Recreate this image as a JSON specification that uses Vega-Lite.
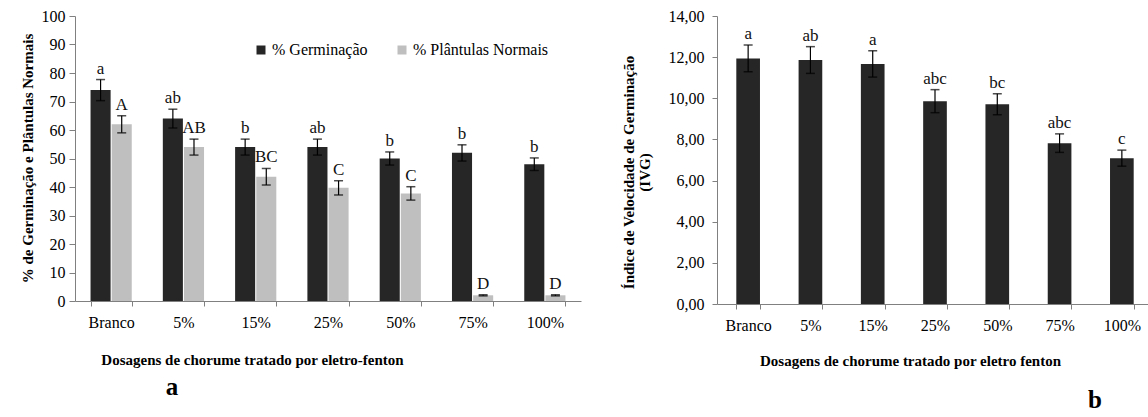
{
  "$schema": "https://vega.github.io/schema/vega-lite/v6.json",
  "padding": {"left": 20, "top": 8, "right": 0, "bottom": 0},
  "background": "white",
  "config": {
    "view": {"stroke": null},
    "font": "Times New Roman",
    "axis": {"labelFont": "Times New Roman", "titleFont": "Times New Roman"},
    "legend": {"labelFont": "Times New Roman"},
    "text": {"font": "Times New Roman"},
    "title": {"font": "Times New Roman"}
  },
  "datasets": {
    "germ": [
      {"dose": "Branco", "serie": "% Germinação", "value": 74, "lo": 70.3, "hi": 77.7, "letra": "a"},
      {"dose": "Branco", "serie": "% Plântulas Normais", "value": 62, "lo": 59, "hi": 65, "letra": "A"},
      {"dose": "5%", "serie": "% Germinação", "value": 64, "lo": 60.7, "hi": 67.3, "letra": "ab"},
      {"dose": "5%", "serie": "% Plântulas Normais", "value": 54, "lo": 51.2, "hi": 56.8, "letra": "AB"},
      {"dose": "15%", "serie": "% Germinação", "value": 54, "lo": 51.2, "hi": 56.8, "letra": "b"},
      {"dose": "15%", "serie": "% Plântulas Normais", "value": 43.6, "lo": 40.7, "hi": 46.5, "letra": "BC"},
      {"dose": "25%", "serie": "% Germinação", "value": 54, "lo": 51.2, "hi": 56.8, "letra": "ab"},
      {"dose": "25%", "serie": "% Plântulas Normais", "value": 39.7, "lo": 37.2, "hi": 42.2, "letra": "C"},
      {"dose": "50%", "serie": "% Germinação", "value": 50, "lo": 47.7, "hi": 52.3, "letra": "b"},
      {"dose": "50%", "serie": "% Plântulas Normais", "value": 37.7, "lo": 35.4, "hi": 40.1, "letra": "C"},
      {"dose": "75%", "serie": "% Germinação", "value": 52, "lo": 49.1, "hi": 54.8, "letra": "b"},
      {"dose": "75%", "serie": "% Plântulas Normais", "value": 2, "lo": 1.8, "hi": 2.2, "letra": "D"},
      {"dose": "100%", "serie": "% Germinação", "value": 48, "lo": 45.8, "hi": 50.2, "letra": "b"},
      {"dose": "100%", "serie": "% Plântulas Normais", "value": 2, "lo": 1.8, "hi": 2.2, "letra": "D"}
    ],
    "ivg": [
      {"dose": "Branco", "ivg": 11.94, "lo": 11.29, "hi": 12.59, "letra": "a"},
      {"dose": "5%", "ivg": 11.86, "lo": 11.21, "hi": 12.51, "letra": "ab"},
      {"dose": "15%", "ivg": 11.67, "lo": 11.03, "hi": 12.31, "letra": "a"},
      {"dose": "25%", "ivg": 9.86, "lo": 9.3, "hi": 10.42, "letra": "abc"},
      {"dose": "50%", "ivg": 9.71, "lo": 9.2, "hi": 10.22, "letra": "bc"},
      {"dose": "75%", "ivg": 7.82, "lo": 7.37, "hi": 8.27, "letra": "abc"},
      {"dose": "100%", "ivg": 7.09, "lo": 6.7, "hi": 7.48, "letra": "c"}
    ]
  },
  "spacing": 40,
  "hconcat": [
    {
      "width": 506,
      "height": 285,
      "data": {"name": "germ"},
      "title": {"text": "a", "orient": "bottom", "anchor": "start", "frame": "group", "dx": 97, "align": "center", "fontSize": 25, "fontWeight": "bold", "color": "black", "offset": 8},
      "encoding": {
        "x": {
          "field": "dose", "type": "nominal",
          "sort": ["Branco", "5%", "15%", "25%", "50%", "75%", "100%"],
          "scale": {"paddingInner": 0.43, "paddingOuter": 0.215},
          "axis": {
            "title": "Dosagens de chorume tratado  por eletro-fenton",
            "titleFontSize": 15, "titleFontWeight": "bold", "titleColor": "black",
            "titleX": 177, "titleY": 58, "titleBaseline": "middle",
            "labelAngle": 0, "labelFontSize": 16, "labelColor": "black", "labelPadding": 8,
            "tickBand": "extent", "tickSize": 5, "tickColor": "#808080", "domainColor": "#808080", "grid": false
          }
        },
        "xOffset": {"field": "serie", "type": "nominal", "sort": ["% Germinação", "% Plântulas Normais"], "scale": {"paddingInner": 0.05}}
      },
      "layer": [
        {
          "mark": {"type": "bar"},
          "encoding": {
            "y": {
              "field": "value", "type": "quantitative",
              "scale": {"domain": [0, 100], "nice": false},
              "axis": {
                "values": [0, 10, 20, 30, 40, 50, 60, 70, 80, 90, 100],
                "labelOverlap": false,
                "title": "% de Germinação  e  Plântulas  Normais",
                "titleFontSize": 15, "titleFontWeight": "bold", "titleColor": "black",
                "titleX": -48, "titleY": 142, "titleBaseline": "middle",
                "labelFontSize": 16, "labelColor": "black", "labelPadding": 4,
                "tickSize": 6, "tickColor": "#808080", "domainColor": "#808080", "grid": false
              }
            },
            "color": {
              "field": "serie", "type": "nominal",
              "scale": {"domain": ["% Germinação", "% Plântulas Normais"], "range": ["#262626", "#bfbfbf"]},
              "legend": {
                "orient": "none", "legendX": 178, "legendY": 26, "direction": "horizontal", "title": null,
                "symbolType": "square", "symbolSize": 81, "symbolStrokeWidth": 0,
                "labelFontSize": 16, "labelColor": "black", "labelOffset": 3,
                "columnPadding": 26
              }
            }
          }
        },
        {
          "mark": {"type": "rule", "color": "black", "strokeWidth": 1.2},
          "encoding": {"y": {"field": "lo", "type": "quantitative", "axis": {"values": [0, 10, 20, 30, 40, 50, 60, 70, 80, 90, 100], "labelOverlap": false}}, "y2": {"field": "hi"}}
        },
        {
          "mark": {"type": "tick", "color": "black", "size": 9, "thickness": 1.5},
          "encoding": {"y": {"field": "lo", "type": "quantitative", "axis": {"values": [0, 10, 20, 30, 40, 50, 60, 70, 80, 90, 100], "labelOverlap": false}}}
        },
        {
          "mark": {"type": "tick", "color": "black", "size": 9, "thickness": 1.5},
          "encoding": {"y": {"field": "hi", "type": "quantitative", "axis": {"values": [0, 10, 20, 30, 40, 50, 60, 70, 80, 90, 100], "labelOverlap": false}}}
        },
        {
          "mark": {"type": "text", "baseline": "bottom", "dy": -2, "fontSize": 17, "color": "#111"},
          "encoding": {"y": {"field": "hi", "type": "quantitative", "axis": {"values": [0, 10, 20, 30, 40, 50, 60, 70, 80, 90, 100], "labelOverlap": false}}, "text": {"field": "letra"}}
        }
      ]
    },
    {
      "width": 436,
      "height": 288,
      "data": {"name": "ivg"},
      "title": {"text": "b", "orient": "bottom", "anchor": "start", "frame": "group", "dx": 378, "align": "center", "fontSize": 25, "fontWeight": "bold", "color": "black", "offset": 20},
      "encoding": {
        "x": {
          "field": "dose", "type": "nominal",
          "sort": ["Branco", "5%", "15%", "25%", "50%", "75%", "100%"],
          "scale": {"paddingInner": 0.62, "paddingOuter": 0.31},
          "axis": {
            "title": "Dosagens de chorume tratado  por eletro fenton",
            "titleFontSize": 15, "titleFontWeight": "bold", "titleColor": "black",
            "titleX": 193, "titleY": 56, "titleBaseline": "middle",
            "labelAngle": 0, "labelFontSize": 16, "labelColor": "black", "labelPadding": 8,
            "tickBand": "extent", "tickSize": 5, "tickColor": "#808080", "domainColor": "#808080", "grid": false
          }
        }
      },
      "layer": [
        {
          "mark": {"type": "bar", "color": "#262626"},
          "encoding": {
            "y": {
              "field": "ivg", "type": "quantitative",
              "scale": {"domain": [0, 14], "nice": false},
              "axis": {
                "values": [0, 2, 4, 6, 8, 10, 12, 14],
                "labelOverlap": false,
                "labelExpr": "replace(format(datum.value, '.2f'), '.', ',')",
                "title": ["Índice  de  Velocidade  de  Germinação", "(IVG)"],
                "titleFontSize": 15, "titleFontWeight": "bold", "titleColor": "black",
                "titleLineHeight": 16, "titleX": -89, "titleY": 156, "titleBaseline": "middle",
                "labelFontSize": 16, "labelColor": "black", "labelPadding": 8,
                "tickSize": 5, "tickColor": "#808080", "domainColor": "#808080", "grid": false
              }
            }
          }
        },
        {
          "mark": {"type": "rule", "color": "black", "strokeWidth": 1.2},
          "encoding": {"y": {"field": "lo", "type": "quantitative"}, "y2": {"field": "hi"}}
        },
        {
          "mark": {"type": "tick", "color": "black", "size": 9, "thickness": 1.5},
          "encoding": {"y": {"field": "lo", "type": "quantitative"}}
        },
        {
          "mark": {"type": "tick", "color": "black", "size": 9, "thickness": 1.5},
          "encoding": {"y": {"field": "hi", "type": "quantitative"}}
        },
        {
          "mark": {"type": "text", "baseline": "bottom", "dy": -2, "fontSize": 17, "color": "#111"},
          "encoding": {"y": {"field": "hi", "type": "quantitative"}, "text": {"field": "letra"}}
        }
      ]
    }
  ]
}
